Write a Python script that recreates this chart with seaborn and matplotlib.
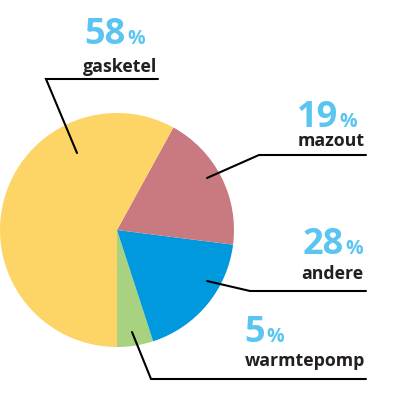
import matplotlib
matplotlib.use('Agg')
import matplotlib.pyplot as plt
import seaborn as sns

# data (slice sizes, labels as printed)
categories = ['warmtepomp', 'andere', 'mazout', 'gasketel']
values = [5, 18, 19, 58]
pct_labels = ['5', '28', '19', '58']
colors = ['#A8D27F', '#0099DE', '#C97A80', '#FDD567']

PCT_COLOR = '#5BC5F2'
TEXT_COLOR = '#231F20'

# layout in pixels (x right, y down), converted below
layout = {
    'gasketel':   dict(anchor=(77, 153), elbow=(46, 79), end=(158, 79),
                       num_x=126, num_y=44, lab_x=157, lab_y=72),
    'mazout':     dict(anchor=(207, 178), elbow=(259, 155), end=(366, 155),
                       num_x=338, num_y=127, lab_x=365, lab_y=146),
    'andere':     dict(anchor=(207, 281), elbow=(250, 291), end=(366, 291),
                       num_x=344, num_y=254, lab_x=363, lab_y=279),
    'warmtepomp': dict(anchor=(132, 332), elbow=(151, 379), end=(366, 379),
                       num_x=265, num_y=342, lab_x=365, lab_y=366),
}


def flip(p):
    return p[0], 400 - p[1]


def draw():
    sns.set_theme(style='white')
    plt.rcParams['font.family'] = ['Open Sans', 'DejaVu Sans']

    fig = plt.figure(figsize=(4, 4), dpi=100)
    ax = fig.add_axes([0, 0, 1, 1])

    ax.pie(values, colors=colors, startangle=270, counterclock=True,
           center=(117, 170), radius=117, frame=True,
           wedgeprops=dict(linewidth=0))
    ax.set_xlim(0, 400)
    ax.set_ylim(0, 400)
    ax.set_aspect('equal')
    ax.axis('off')

    for cat, pct in zip(categories, pct_labels):
        lay = layout[cat]
        pts = [flip(lay['anchor']), flip(lay['elbow']), flip(lay['end'])]
        ax.plot([p[0] for p in pts], [p[1] for p in pts], color='black', lw=1.5,
                solid_joinstyle='miter')
        nx, ny = flip((lay['num_x'], lay['num_y']))
        ax.text(nx, ny, pct, ha='right', va='baseline', fontsize=26,
                fontweight='bold', color=PCT_COLOR)
        ax.text(nx + 1, ny, '%', ha='left', va='baseline', fontsize=14,
                fontweight='bold', color=PCT_COLOR)
        lx, ly = flip((lay['lab_x'], lay['lab_y']))
        ax.text(lx, ly, cat, ha='right', va='baseline', fontsize=12.8,
                fontweight='bold', color=TEXT_COLOR)

    fig.savefig('out.png', dpi=100)


if __name__ == '__main__':
    draw()
